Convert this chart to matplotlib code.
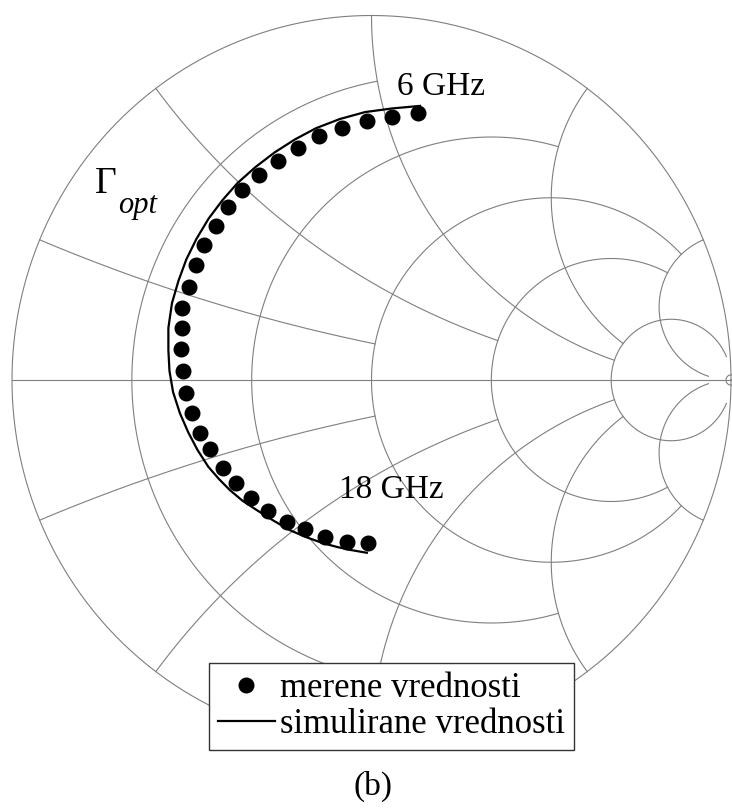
import numpy as np
import matplotlib.pyplot as plt

plt.rcParams['font.family'] = ['Liberation Serif', 'DejaVu Serif']

# Gamma_opt, measured (6 GHz .. 18 GHz)
meas_re = [0.129, 0.058, -0.013, -0.081, -0.145, -0.204, -0.260, -0.312, -0.359, -0.399,
           -0.433, -0.466, -0.489, -0.508, -0.526, -0.528, -0.529, -0.524, -0.517, -0.500,
           -0.477, -0.449, -0.414, -0.377, -0.335, -0.287, -0.236, -0.185, -0.129, -0.069, -0.009]
meas_im = [0.732, 0.722, 0.711, 0.692, 0.669, 0.637, 0.601, 0.562, 0.520, 0.474,
           0.423, 0.370, 0.315, 0.256, 0.198, 0.142, 0.084, 0.025, -0.035, -0.090,
           -0.145, -0.190, -0.242, -0.283, -0.323, -0.359, -0.389, -0.410, -0.430, -0.444, -0.446]

# Gamma_opt, simulated
sim_re = [0.135, 0.057, -0.018, -0.088, -0.154, -0.213, -0.270, -0.323, -0.373, -0.414,
          -0.453, -0.487, -0.515, -0.537, -0.555, -0.565, -0.565, -0.562, -0.552, -0.533,
          -0.510, -0.484, -0.454, -0.424, -0.394, -0.359, -0.319, -0.274, -0.227, -0.182,
          -0.134, -0.096, -0.060, -0.013]
sim_im = [0.752, 0.745, 0.735, 0.716, 0.691, 0.660, 0.624, 0.584, 0.540, 0.494,
          0.443, 0.387, 0.331, 0.272, 0.211, 0.143, 0.082, 0.025, -0.033, -0.091,
          -0.143, -0.192, -0.238, -0.272, -0.302, -0.331, -0.357, -0.385, -0.412, -0.431,
          -0.448, -0.458, -0.466, -0.474]

# smith chart grid: circle values and where each one stops
grid_vals = [0.2, 0.5, 1.0, 2.0, 5.0]
grid_lims = [1.0, 2.0, 5.0, 5.0, 30.0]


def gam(z):
    return (z - 1) / (z + 1)


fig = plt.figure(figsize=(7.32, 8.08), dpi=100)
ax = fig.add_axes([12 / 732, 63.5 / 808, 719 / 732, 729 / 808])
ax.set_xlim(-1, 1)
ax.set_ylim(-1, 1)
ax.axis('off')

gc = '#7f7f7f'
glw = 0.8
t = np.linspace(0, 2 * np.pi, 721)
ax.plot(np.cos(t), np.sin(t), color=gc, lw=glw, clip_on=False)
ax.plot([-1, 1], [0, 0], color=gc, lw=glw, clip_on=False)
ax.plot(1 + 0.014 * np.cos(t), 0.014 * np.sin(t), color=gc, lw=glw, clip_on=False)

for v, lim in zip(grid_vals, grid_lims):
    # constant resistance circle
    x = np.linspace(-lim, lim, 6001)
    g = gam(v + 1j * x)
    ax.plot(g.real, g.imag, color=gc, lw=glw, clip_on=False)
    # constant reactance arcs
    r = np.linspace(0, lim, 6001)
    for s in (1, -1):
        g = gam(r + 1j * s * v)
        ax.plot(g.real, g.imag, color=gc, lw=glw, clip_on=False)

l1, = ax.plot(meas_re, meas_im, 'o', ms=10.5, color='k', label='merene vrednosti')
l2, = ax.plot(sim_re, sim_im, '-', lw=1.6, color='k', label='simulirane vrednosti')

ax.text(0.071, 0.782, '6 GHz', fontsize=24, ha='left', va='baseline')
ax.text(-0.090, -0.324, '18 GHz', fontsize=24, ha='left', va='baseline')
ax.text(-0.769, 0.513, '\u0393', fontsize=27, ha='left', va='baseline')
ax.text(-0.705, 0.458, 'opt', fontsize=22, style='italic', ha='left', va='baseline')

leg = fig.legend([l1, l2], ['merene vrednosti', 'simulirane vrednosti'],
                 loc='upper left', bbox_to_anchor=(209 / 732, 1 - 663 / 808),
                 fontsize=25, frameon=True, fancybox=False, edgecolor='#333333',
                 framealpha=1, handlelength=1.65, handletextpad=0.15,
                 borderpad=0.25, labelspacing=0.1, borderaxespad=0)
leg.get_frame().set_linewidth(1.0)

fig.text(373 / 732, 1 - 786 / 808, '(b)', fontsize=24, ha='center', va='center')

fig.savefig('out.png', dpi=100)
